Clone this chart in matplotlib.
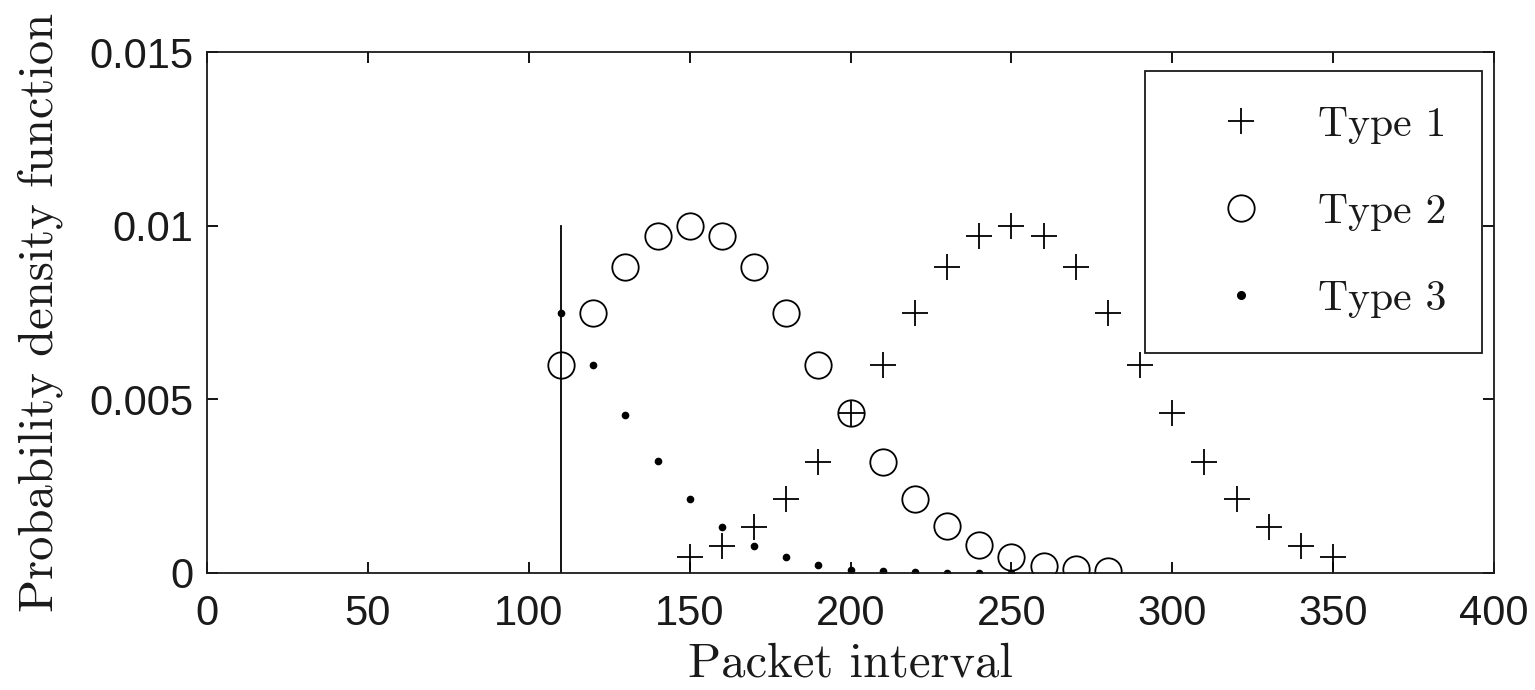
import matplotlib
matplotlib.use("Agg")
import matplotlib.pyplot as plt

x1 = [150, 160, 170, 180, 190, 200, 210, 220, 230, 240, 250, 260, 270, 280, 290, 300, 310, 320, 330, 340, 350]
y1 = [0.00046, 0.00079, 0.00133, 0.00214, 0.0032, 0.0046, 0.0060, 0.0075, 0.0088, 0.0097, 0.0100,
      0.0097, 0.0088, 0.0075, 0.0060, 0.0046, 0.0032, 0.00214, 0.00133, 0.00079, 0.00046]

x2 = [110, 120, 130, 140, 150, 160, 170, 180, 190, 200, 210, 220, 230, 240, 250, 260, 270, 280]
y2 = [0.0060, 0.0075, 0.0088, 0.0097, 0.0100, 0.0097, 0.0088, 0.0075, 0.0060, 0.0046, 0.0032,
      0.00214, 0.00135, 0.0008, 0.00046, 0.00021, 0.00011, 0.00007]

x3 = [110, 120, 130, 140, 150, 160, 170, 180, 190, 200, 210, 220, 230, 240, 250]
y3 = [0.0075, 0.0060, 0.00455, 0.00322, 0.00214, 0.00133, 0.00079, 0.00045, 0.00023, 0.0001,
      0.00005, 0.00002, 0.00001, 0.000005, 0.000002]

vline_x = 110
vline_top = 0.01

labels = ["Type 1", "Type 2", "Type 3"]
xticks = [0, 50, 100, 150, 200, 250, 300, 350, 400]
yticks = [0, 0.005, 0.01, 0.015]
yticklabels = ["0", "0.005", "0.01", "0.015"]

fig = plt.figure(figsize=(15.35, 6.9), dpi=100)
ax = fig.add_axes([0.1349, 0.1696, 0.9733 - 0.1349, 0.9246 - 0.1696])

lw = 1.3
ax.plot(x1, y1, linestyle="none", marker="+", markersize=19, markeredgewidth=lw, color="black", label=labels[0])
ax.plot(x2, y2, linestyle="none", marker="o", markersize=19, markeredgewidth=lw, markerfacecolor="none",
        color="black", label=labels[1])
ax.plot(x3, y3, linestyle="none", marker="o", markersize=4.5, color="black", label=labels[2])
ax.plot([vline_x, vline_x], [0, vline_top], color="black", linewidth=lw)

ax.set_xlim(0, 400)
ax.set_ylim(0, 0.015)
ax.set_xticks(xticks)
ax.set_xticklabels([str(t) for t in xticks])
ax.set_yticks(yticks)
ax.set_yticklabels(yticklabels)

tickfont = "Liberation Sans"
for lab in ax.get_xticklabels() + ax.get_yticklabels():
    lab.set_fontfamily(tickfont)
    lab.set_fontsize(30)
    lab.set_color("#1a1a1a")

ax.tick_params(direction="in", length=8, width=lw, top=True, right=True)
ax.tick_params(axis="y", pad=10)
ax.tick_params(axis="x", pad=15)
for s in ax.spines.values():
    s.set_linewidth(lw)
    s.set_color("#1a1a1a")

ax.set_xlabel("Packet interval", family="cmr10", fontsize=35, labelpad=6, color="#1a1a1a")
ax.set_ylabel("Probability density function", family="cmr10", fontsize=35, labelpad=19, color="#1a1a1a")

leg = ax.legend(loc="upper right", bbox_to_anchor=(0.9907, 0.9635), borderaxespad=0,
                fancybox=False, edgecolor="#1a1a1a", framealpha=1,
                prop={"family": "cmr10", "size": 30}, handlelength=2.9, handletextpad=0.4,
                borderpad=0.85, labelspacing=1.19, markerscale=1.0)
leg.get_frame().set_linewidth(lw)
leg.legend_handles[2].set_markersize(5.5)
for t in leg.get_texts():
    t.set_color("#1a1a1a")

fig.savefig("out.png", dpi=100)
